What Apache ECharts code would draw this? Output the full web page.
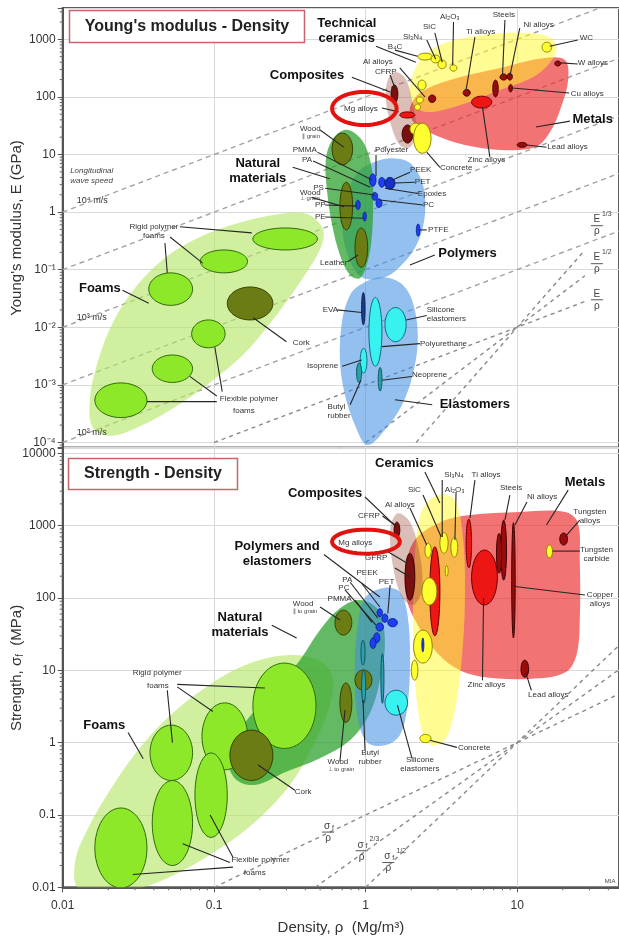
<!DOCTYPE html>
<html>
<head>
<meta charset="utf-8">
<script src="https://cdn.jsdelivr.net/npm/echarts@6/dist/echarts.min.js"></script>
<style>
html, body { margin: 0; padding: 0; background: #fff; }
#chart { width: 619px; height: 941px; }
</style>
</head>
<body>
<div id="chart"></div>
<script>
const FONT = '"Liberation Sans", Arial, Helvetica, sans-serif';

// ---------- axis ticks ----------
const densityTicks = [0.01, 0.1, 1, 10];
const densityTickLabels = ['0.01', '0.1', '1', '10'];
const modulusTicks = [1000, 100, 10, 1, 0.1, 0.01, 0.001, 0.0001];
const modulusTickLabels = ['1000', '100', '10', '1', '10⁻¹', '10⁻²', '10⁻³', '10⁻⁴'];
const strengthTicks = [10000, 1000, 100, 10, 1, 0.1, 0.01];
const strengthTickLabels = ['10000', '1000', '100', '10', '1', '0.1', '0.01'];

// ---------- Young's modulus (GPa) vs density (Mg/m3): family envelopes [density, modulus] ----------
const foamsEnvelopeE = [[0.0158,1.8e-4],[0.0151,5.5e-4],[0.0168,0.0022],[0.0211,0.011],[0.030,0.048],[0.0473,0.16],[0.0806,0.37],[0.148,0.66],[0.272,0.93],[0.41,0.93],[0.50,0.62],[0.53,0.40],[0.49,0.20],[0.368,0.06],[0.252,0.015],[0.160,0.0036],[0.094,0.0011],[0.055,4.1e-4],[0.0324,1.9e-4],[0.021,1.3e-4]];
const naturalEnvelopeE = [[0.72,26.6],[0.849,23.5],[0.989,14.6],[1.10,5.4],[1.12,1.62],[1.10,0.40],[1.03,0.137],[0.916,0.071],[0.787,0.081],[0.676,0.18],[0.60,0.60],[0.555,2.42],[0.545,8.0],[0.60,17.9]];
const polymersEnvelopeE = [[1.10,7.1],[1.45,8.6],[1.96,7.1],[2.39,2.95],[2.46,0.89],[2.21,0.30],[1.79,0.133],[1.34,0.074],[0.94,0.074],[0.76,0.18],[0.70,0.60],[0.75,1.98],[0.89,4.95]];
const elastomersEnvelopeE = [[0.916,0.054],[1.24,0.074],[1.68,0.060],[2.02,0.030],[2.21,0.0073],[2.07,0.0017],[1.74,4.5e-4],[1.34,1.65e-4],[1.02,9e-5],[0.849,2.0e-4],[0.729,6.7e-4],[0.676,0.0027],[0.70,0.0134],[0.787,0.036]];
const metalsEnvelopeE = [[1.96,64],[2.28,117],[3.6,196],[7.69,318],[15.2,475],[20.7,437],[21.7,196],[19.4,64],[16.4,24],[13.1,13.3],[7.69,12],[4.52,14.6],[2.86,21.8],[2.07,36.5]];
const ceramicsEnvelopeE = [[2.0,196],[2.35,470],[3.33,860],[6.61,1240],[12.1,1290],[16.9,1030],[18.2,650],[16.4,390],[12.7,220],[7.69,132],[4.19,72],[2.46,55],[2.0,88]];
const compositesEnvelopeE = [[1.40,196],[1.58,270],[1.85,196],[2.05,72],[2.16,26.6],[1.96,13.3],[1.68,14.6],[1.47,32.5],[1.36,88]];

// material bubbles: [name, family, density min, density max, modulus min, modulus max]
const bubblesE = [
  ['Rigid polymer foams','foam',0.18,0.48,0.22,0.53],
  ['Rigid polymer foams','foam',0.081,0.166,0.088,0.22],
  ['Rigid polymer foams','foam',0.037,0.072,0.024,0.088],
  ['Flexible polymer foams','foam',0.071,0.118,0.0044,0.0134],
  ['Flexible polymer foams','foam',0.039,0.072,0.0011,0.0033],
  ['Flexible polymer foams','foam',0.0163,0.036,2.7e-4,0.00108],
  ['Cork','natural',0.122,0.244,0.0134,0.050],
  ['Wood ∥ grain','natural',0.60,0.82,6.6,23.5],
  ['Wood ⊥ grain','natural',0.676,0.82,0.49,3.3],
  ['Leather','natural',0.85,1.03,0.11,0.53],
  ['PMMA','polymer',1.06,1.17,2.8,4.6],
  ['PA','polymer',1.22,1.34,2.7,4.0],
  ['PET','polymerDark',1.34,1.56,2.5,4.0],
  ['PS','polymer',1.1,1.2,1.6,2.2],
  ['PC','polymer',1.17,1.28,1.2,1.7],
  ['PP','polymer',0.86,0.92,1.1,1.6],
  ['PE','polymer',0.96,1.01,0.7,1.0],
  ['PTFE','polymer',2.16,2.28,0.38,0.62],
  ['EVA','elastomerDark',0.94,0.99,0.011,0.040],
  ['Polyurethane','elastomer',1.05,1.28,0.0021,0.033],
  ['Silicone elastomers','elastomer',1.34,1.85,0.0056,0.022],
  ['Isoprene','elastomer',0.92,1.02,0.0016,0.0043],
  ['Butyl rubber','elastomerTeal',0.87,0.94,0.0011,0.0024],
  ['Neoprene','elastomerTeal',1.21,1.28,7.8e-4,0.002],
  ['CFRP','composite',1.47,1.63,78,161],
  ['GFRP','composite',1.74,2.05,15.8,32.5],
  ['Concrete','ceramic',1.96,2.35,22,35],
  ['Concrete','ceramic',2.07,2.7,10.5,35],
  ['Mg alloys','metal',1.68,2.11,43,55],
  ['B4C','ceramic',2.21,2.75,437,575],
  ['Si3N4','ceramic',2.7,3.1,390,533],
  ['SiC','ceramic',3.0,3.4,310,437],
  ['Al2O3','ceramic',3.6,4.0,280,360],
  ['WC','ceramic',14.6,16.9,600,890],
  ['','ceramic',2.21,2.5,132,196],
  ['','ceramic',2.16,2.4,78,100],
  ['','ceramic',2.1,2.3,59,75],
  ['Al alloys','metalDark',2.6,2.9,80,108],
  ['Ti alloys','metalDark',4.4,4.9,103,135],
  ['Zinc alloys','metal',5.0,6.8,64,103],
  ['Steels','metalDark',7.7,8.6,196,250],
  ['Ni alloys','metalDark',8.6,9.3,196,258],
  ['','metalDark',6.9,7.5,100,196],
  ['Cu alloys','metalDark',8.8,9.3,122,165],
  ['W alloys','metalDark',17.7,19.4,345,420],
  ['Lead alloys','metalDark',10,11.6,13.3,16.2]
];

// wave-speed lines E = k·rho and the index lines E/rho, E^1/2/rho, E^1/3/rho: [rho1, E1, rho2, E2]
const waveSpeedLinesE = [[0.01,1,35,3500],[0.01,0.1,47,470],[0.01,0.01,47,47],[0.01,0.001,47,4.7],[0.01,0.0001,47,0.47]];
const indexLinesE = [[0.1,1e-4,28,0.028],[1,1e-4,28,0.0784],[2.154,1e-4,28,0.2195]];

// leader lines [rho1, E1, rho2, E2]
const leadersE = [
  [0.0594,0.555,0.177,0.435],[0.0511,0.37,0.084,0.13],[0.0473,0.29,0.049,0.088],
  [0.104,5.1e-4,0.036,5.1e-4],[0.104,6.4e-4,0.069,0.0014],[0.113,7.6e-4,0.101,0.0045],
  [0.30,0.0056,0.181,0.0146],[0.0248,0.044,0.037,0.026],[0.33,6.0,0.58,3.8],
  [0.50,26.6,0.72,13.3],[0.48,11.0,1.10,3.6],[0.45,7.7,1.07,2.7],[0.54,2.6,1.15,1.98],
  [0.44,1.8,0.72,1.24],[0.54,1.33,0.88,1.27],[0.54,0.82,0.975,0.78],[1.17,9.8,1.17,4.2],
  [1.96,4.9,1.50,3.6],[2.11,3.3,1.56,3.2],[2.21,2.1,1.34,2.6],[2.39,1.33,1.24,1.62],
  [2.53,0.49,2.28,0.49],[0.76,0.137,0.89,0.18],[0.65,0.020,0.94,0.018],
  [2.53,0.016,1.85,0.0134],[2.28,0.0052,1.28,0.0046],[0.70,0.0021,0.94,0.0027],
  [2.02,0.0014,1.28,0.0012],[0.79,4.5e-4,0.93,0.0012],[2.86,0.18,1.96,0.121],
  [2.75,4.5e-4,1.56,5.5e-4],[1.17,760,2.14,400],[2.53,973,2.9,450],[2.86,1290,3.2,400],
  [3.8,2000,3.75,358],[5.26,1090,4.6,132],[8.3,2160,8.0,240],[10.4,1570,8.95,230],
  [25.1,973,16.4,760],[25.1,373,19.4,390],[22.0,117,9.3,143],[15.6,13.4,11.6,14.6],
  [6.6,9.1,5.9,66],[3.09,6.0,2.53,11.0],[1.68,318,2.46,100],[1.45,240,1.56,143],
  [0.81,220,1.45,122],[13.3,30,22.3,38],[1.28,64,1.65,55],[1.56,650,2.2,510]
];

// text annotations [text, rho, E, kind]
const labelsE = [
  ['Technical\nceramics',0.75,1390,'family'],['Composites',0.41,240,'family'],
  ['Natural\nmaterials',0.194,5.2,'family'],['Polymers',4.7,0.195,'family'],
  ['Elastomers',5.26,4.5e-4,'family'],['Metals',31.5,41,'family'],['Foams',0.0176,0.047,'family'],
  ['B₄C',1.40,730,'note'],['Si₃N₄',1.76,1100,'note'],['SiC',2.39,1620,'note'],['Al₂O₃',3.09,2440,'note'],
  ['Ti alloys',4.6,1340,'note'],['Steels',6.9,2640,'note'],['Ni alloys',11.0,1770,'note'],
  ['WC',25.9,1050,'note'],['W alloys',25.1,390,'note'],['Cu alloys',22.6,112,'note'],
  ['Lead alloys',15.8,13.4,'note'],['Zinc alloys',4.7,8.0,'note'],['Concrete',3.09,5.8,'note'],
  ['Al alloys',0.96,400,'note'],['CFRP',1.15,270,'note'],['Mg alloys',0.72,61,'note'],
  ['Wood',0.368,27.5,'note'],['∥ grain',0.38,21,'fine'],['PMMA',0.33,12,'note'],['PA',0.38,8.0,'note'],
  ['PS',0.45,2.6,'note'],['Wood',0.368,2.2,'note'],['⊥ grain',0.368,1.74,'fine'],
  ['PP',0.462,1.33,'note'],['PE',0.462,0.82,'note'],['Polyester',1.15,12,'note'],
  ['PEEK',1.96,5.4,'note'],['PET',2.11,3.3,'note'],['Epoxies',2.21,2.1,'note'],['PC',2.39,1.33,'note'],
  ['PTFE',2.58,0.49,'note'],['Leather',0.50,0.13,'note'],['EVA',0.52,0.020,'note'],
  ['Silicone\nelastomers',2.53,0.0165,'note'],['Polyurethane',2.28,0.0052,'note'],
  ['Isoprene',0.41,0.0021,'note'],['Neoprene',2.02,0.0015,'note'],['Butyl\nrubber',0.56,3.5e-4,'note'],
  ['Rigid polymer\nfoams',0.040,0.47,'noteC'],['Flexible polymer',0.109,5.7e-4,'note'],['foams',0.133,3.6e-4,'note'],
  ['Cork',0.33,0.0054,'note'],['Longitudinal\nwave speed',0.0112,4.2,'italic'],
  ['10⁴ m/s',0.0124,1.62,'speed'],['10³ m/s',0.0124,0.0147,'speed'],['10² m/s',0.0124,1.5e-4,'speed']
];
// index labels [numerator, exponent, rho, E]
const fractionsE = [['E','1/3',33.6,0.58],['E','1/2',33.6,0.127],['E','',33.6,0.030]];
const ringsE = [[0.60,1.60,32.5,122]];

// ---------- Strength (MPa) vs density: family envelopes [density, strength] ----------
const foamsEnvelopeS = [[0.0126,0.0097],[0.0121,0.023],[0.0145,0.062],[0.0205,0.22],[0.0324,0.86],[0.0535,2.6],[0.087,5.7],[0.148,11.0],[0.272,15.9],[0.462,14.5],[0.60,8.6],[0.581,3.3],[0.45,0.92],[0.316,0.26],[0.186,0.080],[0.101,0.031],[0.0551,0.015],[0.0324,0.0097],[0.019,0.0085]];
const naturalEnvelopeS = [[0.137,0.32],[0.123,0.67],[0.160,1.9],[0.252,5.3],[0.368,13.8],[0.499,36],[0.676,72],[0.916,94],[1.21,68],[1.34,26],[1.24,7.3],[1.07,2.6],[0.787,1.08],[0.499,0.61],[0.293,0.39],[0.186,0.26]];
const polymersEnvelopeS = [[0.989,100],[1.34,139],[1.68,121],[1.89,58],[1.96,13.8],[1.89,3.3],[1.68,1.27],[1.34,0.92],[1.03,1.0],[0.89,2.05],[0.849,7.3],[0.87,30.7]];
const metalsEnvelopeS = [[1.82,243],[2.11,632],[3.09,1110],[4.88,1400],[10.4,1550],[20.7,1550],[25.1,1110],[25.9,334],[25.9,49.5],[24.6,16.2],[20.7,9.3],[12.1,7.6],[5.68,8.2],[3.88,10.9],[2.86,19],[2.21,42],[1.87,93.5]];
const ceramicsEnvelopeS = [[2.46,1930],[3.09,2680],[3.88,2260],[4.4,632],[4.52,93.5],[4.3,13.8],[3.88,2.82],[3.33,1.08],[2.71,0.92],[2.35,1.49],[2.11,7.3],[2.05,49.5],[2.11,334],[2.21,1020]];
const compositesEnvelopeS = [[1.45,869],[1.62,1480],[1.96,1120],[2.28,392],[2.35,129],[2.07,80],[1.75,100],[1.53,243]];

// material bubbles: [name, family, density min, density max, strength min, strength max]
const bubblesS = [
  ['Rigid polymer foams','foam',0.18,0.47,0.83,12.6],
  ['Rigid polymer foams','foam',0.083,0.166,0.42,3.55],
  ['Rigid polymer foams','foam',0.0377,0.072,0.30,1.75],
  ['Flexible polymer foams','foam',0.0746,0.122,0.049,0.72],
  ['Flexible polymer foams','foam',0.039,0.072,0.020,0.30],
  ['Flexible polymer foams','foam',0.0163,0.036,0.0098,0.125],
  ['Cork','natural',0.127,0.244,0.30,1.49],
  ['Wood ∥ grain','natural',0.627,0.81,30.7,68],
  ['Wood ⊥ grain','natural',0.676,0.81,1.9,6.7],
  ['','natural',0.85,1.1,5.3,10.1],
  ['','elastomerTeal',0.93,0.99,11.8,26],
  ['PEEK','polymer',1.19,1.29,55,71],
  ['','polymer',1.28,1.40,46,60],
  ['PET','polymer',1.40,1.62,40,52],
  ['PA','polymer',1.17,1.31,35,45],
  ['PC','polymer',1.13,1.24,24,33],
  ['PMMA','polymer',1.07,1.17,20,28],
  ['Silicone elastomers','elastomer',1.34,1.89,2.4,5.3],
  ['','elastomerTeal',1.26,1.32,3.5,17],
  ['Butyl rubber','elastomerTeal',0.94,1.0,3.5,10],
  ['CFRP','composite',1.54,1.68,680,1120],
  ['GFRP','composite',1.82,2.11,93,415],
  ['Al alloys','metal',2.65,3.09,30,510],
  ['SiC','ceramic',3.09,3.5,415,800],
  ['Al2O3','ceramic',3.65,4.05,365,690],
  ['','ceramic',2.46,2.71,360,570],
  ['','ceramic',2.35,2.95,80,190],
  ['','ceramic',2.07,2.75,12.6,36],
  ['','polymer',2.35,2.42,18,28],
  ['','ceramic',2.0,2.21,7.3,13.8],
  ['Concrete','ceramic',2.28,2.7,1.0,1.3],
  ['Tungsten carbide','ceramic',15.6,17.1,360,540],
  ['','ceramic',3.35,3.5,200,280],
  ['Ti alloys','metal',4.6,5.0,262,1230],
  ['Zinc alloys','metal',5.0,7.4,80,460],
  ['Steels','metalDark',7.8,8.5,177,1190],
  ['','metalDark',7.3,7.9,220,780],
  ['Ni alloys','metalDark',9.2,9.7,28,1100],
  ['Tungsten alloys','metalDark',19.1,21.5,539,790],
  ['Lead alloys','metalDark',10.6,11.9,8,13.8]
];

// index lines sigma/rho, sigma^2/3/rho, sigma^1/2/rho: [rho1, s1, rho2, s2]
const indexLinesS = [[0.1,0.01,47,4.7],[0.464,0.01,47,10.2],[1,0.01,47,22.1]];

const leadersS = [
  [2.46,5500,3.09,2050],[3.2,4270,3.2,695],[2.39,2650,3.15,695],[3.95,2920,3.88,632],
  [5.26,4270,4.88,1270],[8.95,2650,8.3,1190],[11.6,2130,9.66,1020],[21.7,3100,15.6,1020],
  [25.9,1190,20.7,700],[25.9,445,17.1,445],[28,110,9.66,144],[0.99,2490,1.6,957],
  [1.96,1750,2.53,539],[1.29,1360,1.56,1020],[1.34,460,1.87,305],[1.56,260,1.96,195],
  [0.53,400,1.24,103],[0.94,160,1.24,75],[1.45,151,1.40,61],[0.79,165,1.2,53],
  [0.73,129,1.17,42],[0.85,93.5,1.1,46],[0.50,75,0.676,49.5],[0.24,42,0.35,28],
  [0.027,1.38,0.034,0.60],[0.057,6.4,0.216,5.7],[0.057,5.9,0.098,2.7],[0.049,5.3,0.053,1.0],
  [0.133,0.019,0.029,0.015],[0.127,0.022,0.062,0.040],[0.133,0.026,0.094,0.10],
  [0.341,0.22,0.195,0.49],[0.676,0.55,0.73,2.82],[0.99,0.79,0.96,3.87],[2.02,0.61,1.62,3.3],
  [4.0,0.86,2.65,1.08],[5.9,7.3,6.0,100],[12.4,5.3,11.4,9.2]
];

const labelsS = [
  ['Ceramics',1.8,7350,'family'],['Composites',0.54,2820,'family'],
  ['Polymers and\nelastomers',0.26,405,'family'],['Natural\nmaterials',0.148,42,'family'],
  ['Metals',28,4010,'family'],['Foams',0.0188,1.75,'family'],
  ['Si₃N₄',3.3,5010,'note'],['Ti alloys',5.0,5010,'note'],['SiC',1.9,3100,'note'],['Al₂O₃',3.33,3100,'note'],
  ['Steels',7.7,3310,'note'],['Ni alloys',11.6,2500,'note'],['Al alloys',1.34,1930,'note'],
  ['Tungsten\nalloys',30.2,1340,'noteC'],['Tungsten\ncarbide',33.4,398,'noteC'],['Copper\nalloys',35.2,95,'noteC'],
  ['CFRP',0.89,1360,'note'],['Mg alloys',0.66,574,'note'],['GFRP',0.99,357,'note'],
  ['PEEK',0.87,221,'note'],['PET',1.22,166,'note'],['PA',0.70,177,'note'],['PC',0.66,137,'note'],
  ['PMMA',0.56,97,'note'],['Wood',0.33,82,'note'],['∥ to grain',0.33,66,'fine'],
  ['Wood',0.56,0.54,'note'],['⊥ to grain',0.56,0.43,'fine'],['Butyl\nrubber',1.07,0.62,'noteC'],
  ['Silicone\nelastomers',2.28,0.50,'noteC'],['Concrete',4.06,0.86,'note'],['Cork',0.34,0.21,'note'],
  ['Rigid polymer',0.029,9.3,'note'],['foams',0.036,6.2,'note'],['Flexible polymer',0.13,0.024,'note'],
  ['foams',0.157,0.016,'note'],['Lead alloys',11.8,4.54,'note'],['Zinc alloys',4.7,6.24,'note'],
  ['MIA',37.9,0.012,'fine']
];
const fractionsS = [['σ','',0.564,0.058],['σ','2/3',0.94,0.032],['σ','1/2',1.41,0.022]];
const ringsS = [[0.60,1.68,410,880]];

// ---------- styles ----------
const envelopeStyle = {
  foam: 'rgba(180,230,100,0.62)',
  natural: 'rgba(40,160,40,0.72)',
  polymer: 'rgba(60,140,225,0.55)',
  metal: 'rgba(235,40,40,0.65)',
  ceramic: 'rgba(255,250,40,0.5)',
  composite: 'rgba(150,70,50,0.35)'
};
const bubbleStyle = {
  foam: ['#8ee82a', '#2f6b0a'],
  natural: ['#6b7c14', '#334000'],
  polymer: ['#1f3ef0', '#0c1f9a'],
  polymerDark: ['#1530c8', '#0a1570'],
  elastomer: ['#38f2f2', '#0d6a7a'],
  elastomerTeal: ['#2aa0a8', '#0d5560'],
  elastomerDark: ['#1d3d8a', '#0a1a50'],
  composite: ['#7a0f0f', '#3a0000'],
  ceramic: ['#ffff30', '#8a8000'],
  metal: ['#ee1515', '#6a0000'],
  metalDark: ['#9a0c0c', '#3a0000']
};
const labelStyle = {
  family: { font: 'bold 13px ' + FONT, fill: '#111', align: 'center', lh: 15 },
  note: { font: '8px ' + FONT, fill: '#333', align: 'left', lh: 9 },
  noteC: { font: '8px ' + FONT, fill: '#333', align: 'center', lh: 9 },
  fine: { font: '6px ' + FONT, fill: '#444', align: 'left', lh: 7 },
  italic: { font: 'italic 8px ' + FONT, fill: '#444', align: 'left', lh: 10 },
  speed: { font: '9px ' + FONT, fill: '#333', align: 'left', lh: 10 }
};

const envelopesE = [
  [foamsEnvelopeE, 'foam'], [polymersEnvelopeE, 'polymer'], [elastomersEnvelopeE, 'polymer'],
  [naturalEnvelopeE, 'natural'], [metalsEnvelopeE, 'metal'], [ceramicsEnvelopeE, 'ceramic'],
  [compositesEnvelopeE, 'composite']
];
const envelopesS = [
  [foamsEnvelopeS, 'foam'], [naturalEnvelopeS, 'natural'], [polymersEnvelopeS, 'polymer'],
  [metalsEnvelopeS, 'metal'], [ceramicsEnvelopeS, 'ceramic'], [compositesEnvelopeS, 'composite']
];

// ---------- renderers ----------
function ellipsePoints(cx, cy, rx, ry) {
  const pts = [];
  for (let i = 0; i < 48; i++) {
    const t = i * Math.PI / 24;
    pts.push([cx + rx * Math.cos(t), cy + ry * Math.sin(t)]);
  }
  return pts;
}
function boxEllipse(api, x0, x1, y0, y1) {
  const a = api.coord([x0, y0]), c = api.coord([x1, y1]);
  return ellipsePoints((a[0] + c[0]) / 2, (a[1] + c[1]) / 2, Math.abs(c[0] - a[0]) / 2, Math.abs(c[1] - a[1]) / 2);
}
function envelopeRenderer(list) {
  return (params, api) => {
    const env = list[params.dataIndex];
    return { type: 'polygon', shape: { points: env[0].map(p => api.coord(p)), smooth: 0.35 },
      style: { fill: envelopeStyle[env[1]], stroke: null } };
  };
}
function bubbleRenderer(list) {
  return (params, api) => {
    const b = list[params.dataIndex];
    const st = bubbleStyle[b[1]];
    return { type: 'polygon', shape: { points: boxEllipse(api, b[2], b[3], b[4], b[5]) },
      style: { fill: st[0], stroke: st[1], lineWidth: 1 } };
  };
}
function lineRenderer(list, stroke, width, dash) {
  return (params, api) => {
    const l = list[params.dataIndex];
    const a = api.coord([l[0], l[1]]), b = api.coord([l[2], l[3]]);
    return { type: 'line', shape: { x1: a[0], y1: a[1], x2: b[0], y2: b[1] },
      style: { stroke: stroke, lineWidth: width, lineDash: dash || null } };
  };
}
function labelRenderer(list) {
  return (params, api) => {
    const L = list[params.dataIndex];
    const p = api.coord([L[1], L[2]]);
    const st = labelStyle[L[3]];
    return { type: 'text', x: p[0], y: p[1],
      style: { text: L[0], font: st.font, fill: st.fill, align: st.align, textAlign: st.align,
        verticalAlign: 'middle', textVerticalAlign: 'middle', lineHeight: st.lh } };
  };
}
function fractionRenderer(list) {
  return (params, api) => {
    const f = list[params.dataIndex];
    const p = api.coord([f[2], f[3]]);
    const txt = (t, x, y, size, align, va) => ({ type: 'text', x: x, y: y,
      style: { text: t, font: size + 'px ' + FONT, fill: '#444', align: align, textAlign: align,
        verticalAlign: va, textVerticalAlign: va } });
    const kids = [
      { type: 'line', shape: { x1: p[0] - 6, y1: p[1], x2: p[0] + 6, y2: p[1] }, style: { stroke: '#555', lineWidth: 1 } },
      txt('ρ', p[0], p[1] + 1, 10, 'center', 'top')
    ];
    if (f[0] === 'σ') {
      kids.push(txt('σ', p[0] - 1, p[1] - 1, 10, 'center', 'bottom'));
      kids.push(txt('f', p[0] + 4, p[1] - 1, 7, 'left', 'bottom'));
    } else {
      kids.push(txt(f[0], p[0], p[1] - 1, 10, 'center', 'bottom'));
    }
    if (f[1]) kids.push(txt(f[1], p[0] + (f[0] === 'σ' ? 8 : 5), p[1] - 8, 7, 'left', 'bottom'));
    return { type: 'group', children: kids };
  };
}
function ringRenderer(list) {
  return (params, api) => {
    const r = list[params.dataIndex];
    return { type: 'polygon', shape: { points: boxEllipse(api, r[0], r[1], r[2], r[3]) },
      style: { fill: null, stroke: '#e3120f', lineWidth: 4 } };
  };
}
// log-axis minor ticks at 2..9 of each decade
function minorValues(lo, hi) {
  const out = [];
  for (let e = Math.floor(Math.log10(lo)); e <= Math.ceil(Math.log10(hi)); e++) {
    for (let m = 2; m <= 9; m++) {
      const v = m * Math.pow(10, e);
      if (v > lo && v < hi) out.push(v);
    }
  }
  return out;
}
function yMinorRenderer(vals, xmin) {
  return (params, api) => {
    const p = api.coord([xmin, vals[params.dataIndex]]);
    return { type: 'line', shape: { x1: p[0] - 3, y1: p[1], x2: p[0], y2: p[1] }, style: { stroke: '#666', lineWidth: 1 } };
  };
}
function xMinorRenderer(vals, ymin) {
  return (params, api) => {
    const p = api.coord([vals[params.dataIndex], ymin]);
    return { type: 'line', shape: { x1: p[0], y1: p[1], x2: p[0], y2: p[1] + 3 }, style: { stroke: '#666', lineWidth: 1 } };
  };
}
function tickFormatter(ticks, labels) {
  return v => {
    for (let i = 0; i < ticks.length; i++) {
      if (Math.abs(Math.log10(v) - Math.log10(ticks[i])) < 1e-6) return labels[i];
    }
    return '';
  };
}

const X_MIN = 0.01, X_MAX = 47;
const E_MIN = 8e-5, E_MAX = 3500;
const S_MIN = 0.01, S_MAX = 12000;

function custom(gridIdx, list, renderItem, clip) {
  return {
    type: 'custom', coordinateSystem: 'cartesian2d', xAxisIndex: gridIdx, yAxisIndex: gridIdx,
    silent: true, clip: !!clip, animation: false,
    data: list.map((d, i) => [i, i]),
    renderItem: renderItem
  };
}

const minorE = minorValues(E_MIN, E_MAX);
const minorS = minorValues(S_MIN, S_MAX);
const minorX = minorValues(X_MIN, X_MAX);

const splitStyle = { show: true, lineStyle: { color: '#d9d9d9', width: 1 } };
const axisLabelStyle = { fontSize: 12, color: '#333', fontFamily: FONT };
const nameRich = {
  n: { fontSize: 15, fill: '#333', fontFamily: FONT, lineHeight: 17 },
  s: { fontSize: 10, fill: '#333', fontFamily: FONT, lineHeight: 17, verticalAlign: 'bottom' }
};

const option = {
  animation: false,
  backgroundColor: '#ffffff',
  grid: [
    { left: 62.7, right: 0, top: 8, height: 440, containLabel: false, outerBoundsMode: 'none',
      show: true, borderColor: '#5c5c5c', borderWidth: 2 },
    { left: 62.7, right: 0, top: 447.6, height: 439.7, containLabel: false, outerBoundsMode: 'none',
      show: true, borderColor: '#5c5c5c', borderWidth: 2 }
  ],
  xAxis: [
    { type: 'log', gridIndex: 0, min: X_MIN, max: X_MAX, axisLabel: { show: false }, axisTick: { show: false },
      axisLine: { show: false }, splitLine: splitStyle },
    { type: 'log', gridIndex: 1, min: X_MIN, max: X_MAX,
      axisLine: { show: true, lineStyle: { color: '#555', width: 2 } },
      axisTick: { show: true, length: 5, lineStyle: { color: '#555' } },
      axisLabel: Object.assign({ formatter: tickFormatter(densityTicks, densityTickLabels), margin: 12 }, axisLabelStyle),
      splitLine: splitStyle,
      name: 'Density, ρ  (Mg/m³)', nameLocation: 'middle', nameGap: 33,
      nameTextStyle: { fontSize: 15, color: '#333', fontFamily: FONT } }
  ],
  yAxis: [
    { type: 'log', gridIndex: 0, min: E_MIN, max: E_MAX,
      axisLine: { show: true, lineStyle: { color: '#555', width: 2 } },
      axisTick: { show: true, length: 5, lineStyle: { color: '#555' } },
      axisLabel: Object.assign({ formatter: tickFormatter(modulusTicks, modulusTickLabels), margin: 7 }, axisLabelStyle),
      splitLine: splitStyle },
    { type: 'log', gridIndex: 1, min: S_MIN, max: S_MAX,
      axisLine: { show: true, lineStyle: { color: '#555', width: 2 } },
      axisTick: { show: true, length: 5, lineStyle: { color: '#555' } },
      axisLabel: Object.assign({ formatter: tickFormatter(strengthTicks, strengthTickLabels), margin: 7 }, axisLabelStyle),
      splitLine: splitStyle }
  ],
  series: [
    custom(0, waveSpeedLinesE, lineRenderer(waveSpeedLinesE, '#a3a3a3', 1.4, [5, 4]), true),
    custom(0, indexLinesE, lineRenderer(indexLinesE, '#8a8a8a', 1.4, [4, 4]), true),
    custom(1, indexLinesS, lineRenderer(indexLinesS, '#8a8a8a', 1.4, [4, 4]), true),
    custom(0, envelopesE, envelopeRenderer(envelopesE), true),
    custom(1, envelopesS, envelopeRenderer(envelopesS), true),
    custom(0, bubblesE, bubbleRenderer(bubblesE), true),
    custom(1, bubblesS, bubbleRenderer(bubblesS), true),
    custom(0, leadersE, lineRenderer(leadersE, '#262626', 1.1), false),
    custom(1, leadersS, lineRenderer(leadersS, '#262626', 1.1), false),
    custom(0, labelsE, labelRenderer(labelsE), false),
    custom(1, labelsS, labelRenderer(labelsS), false),
    custom(0, fractionsE, fractionRenderer(fractionsE), false),
    custom(1, fractionsS, fractionRenderer(fractionsS), false),
    custom(0, ringsE, ringRenderer(ringsE), false),
    custom(1, ringsS, ringRenderer(ringsS), false),
    custom(0, minorE, yMinorRenderer(minorE, X_MIN), false),
    custom(1, minorS, yMinorRenderer(minorS, X_MIN), false),
    custom(1, minorX, xMinorRenderer(minorX, S_MIN), false)
  ],
  graphic: [
    { type: 'rect', z: 100, shape: { x: 69.5, y: 10.5, width: 235, height: 32 },
      style: { fill: '#fff', stroke: '#c8646e', lineWidth: 1.5 } },
    { type: 'text', z: 101, x: 187, y: 27,
      style: { text: "Young's modulus - Density", font: 'bold 16px ' + FONT, fill: '#222',
        align: 'center', textAlign: 'center', verticalAlign: 'middle', textVerticalAlign: 'middle' } },
    { type: 'rect', z: 100, shape: { x: 68.5, y: 458.5, width: 169, height: 31 },
      style: { fill: '#fff', stroke: '#c8646e', lineWidth: 1.5 } },
    { type: 'text', z: 101, x: 153, y: 474,
      style: { text: 'Strength - Density', font: 'bold 16px ' + FONT, fill: '#222',
        align: 'center', textAlign: 'center', verticalAlign: 'middle', textVerticalAlign: 'middle' } },
    // vertical axis titles
    { type: 'text', z: 101, x: 17, y: 228, rotation: Math.PI / 2,
      style: { text: "{n|Young's modulus, E (GPa)}", rich: nameRich,
        align: 'center', textAlign: 'center', verticalAlign: 'middle', textVerticalAlign: 'middle' } },
    { type: 'text', z: 101, x: 17, y: 668, rotation: Math.PI / 2,
      style: { text: '{n|Strength, σ}{s|f}{n|  (MPa)}', rich: nameRich,
        align: 'center', textAlign: 'center', verticalAlign: 'middle', textVerticalAlign: 'middle' } }
  ]
};

const chart = echarts.init(document.getElementById('chart'), null, { renderer: 'canvas' });
chart.setOption(option);
</script>
</body>
</html>
